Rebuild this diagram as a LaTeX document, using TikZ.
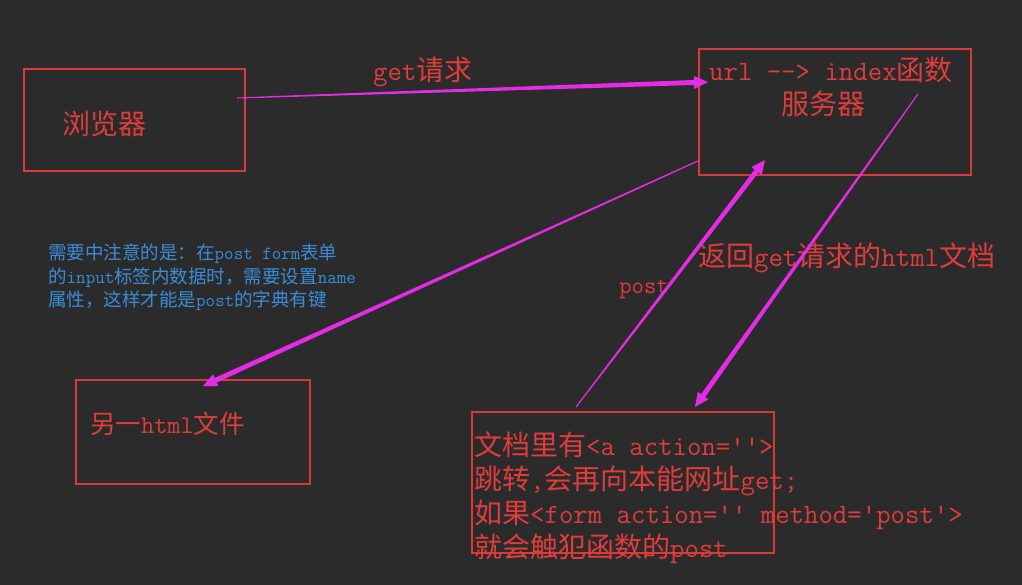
\documentclass[tikz,border=0pt]{standalone}
\usepackage{fontspec}
\newfontfamily\cjk{Noto Sans CJK SC}
\usetikzlibrary{calc}

\definecolor{bg}{HTML}{2B2B2B}
\definecolor{boxred}{HTML}{D83A3A}
\definecolor{txtred}{HTML}{E03C3C}
\definecolor{notecol}{HTML}{3A8CDA}
\definecolor{arrowpink}{HTML}{E62BE6}

\newcommand\zh[1]{{\cjk #1}}

% tapered connector: thin at the start, wide at the tip, triangular head
\newcommand\taperarrow[2]{%
  \coordinate (#1-#2-h) at ($(#2)!14pt!(#1)$);
  \fill[arrowpink] ($(#1)!0.55pt!90:(#2)$) -- ($(#1-#2-h)!2.5pt!-90:(#1)$)
     -- ($(#1-#2-h)!2.5pt!90:(#1)$) -- ($(#1)!0.55pt!-90:(#2)$) -- cycle;
  \fill[arrowpink] (#2) -- ($(#1-#2-h)!6.5pt!90:(#1)$) -- ($(#1-#2-h)!6.5pt!-90:(#1)$) -- cycle;
}

\tikzset{
  box/.style={draw=boxred, line width=1.3pt, inner sep=0pt},
  redtext/.style={text=txtred, inner sep=0pt, font=\ttfamily\fontsize{28}{33}\selectfont},
  notetext/.style={text=notecol, inner sep=0pt, align=left,
    font=\ttfamily\fontsize{18.5}{23.5}\selectfont},
}

\begin{document}
\begin{tikzpicture}[x=1pt, y=-1pt]
  \useasboundingbox (0,0) rectangle (1022,585);
  \fill[bg] (0,0) rectangle (1022,585);

  % boxes
  \node[box, minimum width=221pt, minimum height=102pt] (browser) at (134.5,120) {};
  \node[box, minimum width=272pt, minimum height=126pt] (server) at (835,112) {};
  \node[box, minimum width=234pt, minimum height=104pt] (other) at (193,432) {};
  \node[box, minimum width=302pt, minimum height=141pt] (page) at (623,482.5) {};

  % box texts
  \node[redtext] (browser-t) at (104,124) {\zh{浏览器}};
  \node[redtext, anchor=west] (server-t1) at (709,70) {url -{}-> index\zh{函数}};
  \node[redtext] (server-t2) at (823,104) {\zh{服务器}};
  \node[redtext, anchor=west, font=\ttfamily\fontsize{25.5}{30}\selectfont] (other-t) at (90,424) {\zh{另一}html\zh{文件}};
  \node[redtext, anchor=north west, align=left, font=\ttfamily\fontsize{28}{34}\selectfont] (page-t) at (474,432)
    {\zh{文档里有}<a action='{}'>\\
     \zh{跳转},\zh{会再向本能网址}get;\\
     \zh{如果}<form action='{}' method='post'>\\
     \zh{就会触犯函数的}post};

  % connector labels
  \node[redtext, anchor=west] (get-l) at (373,72) {get\zh{请求}};
  \node[redtext, font=\ttfamily\fontsize{24}{28}\selectfont] (post-l) at (644,290) {post};
  \node[redtext, anchor=west] (ret-l) at (698,258) {\zh{返回}get\zh{请求的}html\zh{文档}};

  % note
  \node[notetext, anchor=north west] (note) at (48,244)
    {\zh{需要中注意的是：在}post form\zh{表单}\\
     \zh{的}input\zh{标签内数据时，需要设置}name\\
     \zh{属性，这样才能是}post\zh{的字典有键}};

  % connector end points
  \coordinate (get-from) at (237,98);
  \coordinate (get-to) at (708,82);
  \coordinate (back-from) at (700,160);
  \coordinate (back-to) at (203,386);
  \coordinate (post-from) at (576,407);
  \coordinate (post-to) at (765,160);
  \coordinate (ret-from) at (918,94);
  \coordinate (ret-to) at (695,407);

  \taperarrow{get-from}{get-to}
  \taperarrow{back-from}{back-to}
  \taperarrow{post-from}{post-to}
  \taperarrow{ret-from}{ret-to}
\end{tikzpicture}
\end{document}
